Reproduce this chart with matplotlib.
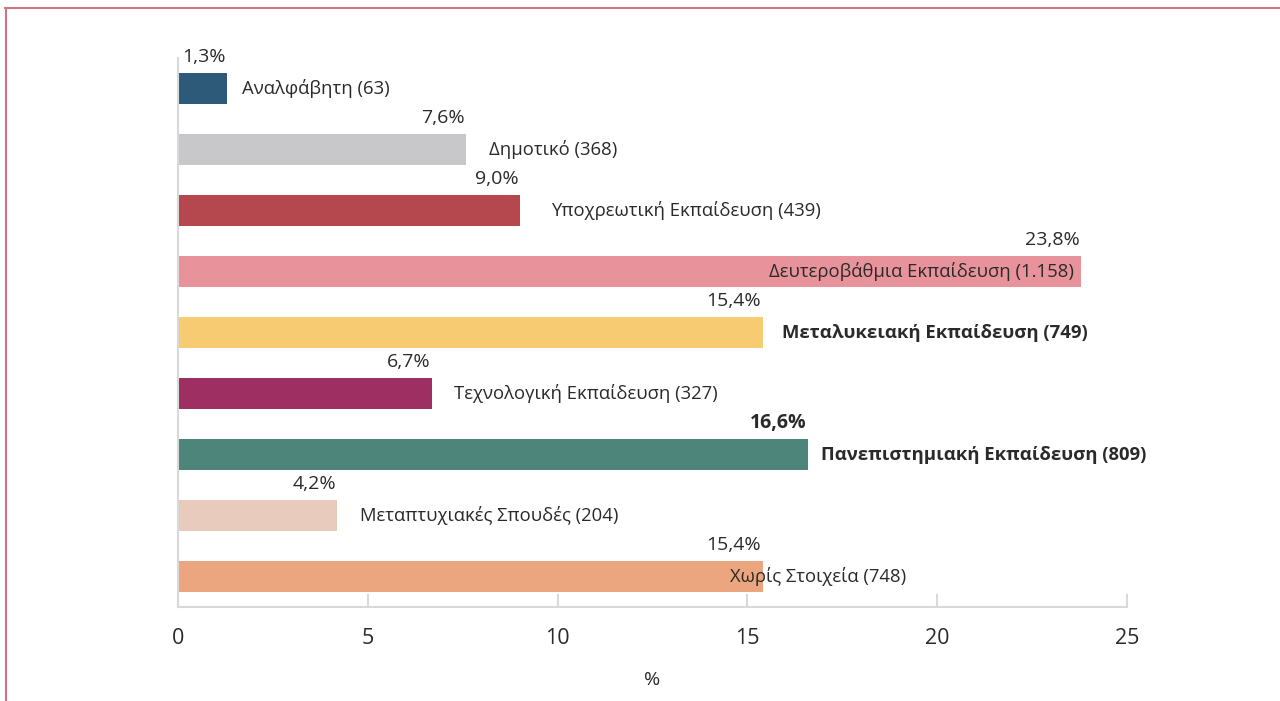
import matplotlib.pyplot as plt
from matplotlib.lines import Line2D

plt.rcParams['font.family'] = ['Open Sans', 'DejaVu Sans']

categories = ['Αναλφάβητη (63)', 'Δημοτικό (368)', 'Υποχρεωτική Εκπαίδευση (439)',
              'Δευτεροβάθμια Εκπαίδευση (1.158)', 'Μεταλυκειακή Εκπαίδευση (749)',
              'Τεχνολογική Εκπαίδευση (327)', 'Πανεπιστημιακή Εκπαίδευση (809)',
              'Μεταπτυχιακές Σπουδές (204)', 'Χωρίς Στοιχεία (748)']
values = [1.3, 7.6, 9.0, 23.8, 15.4, 6.7, 16.6, 4.2, 15.4]
value_labels = ['1,3%', '7,6%', '9,0%', '23,8%', '15,4%', '6,7%', '16,6%', '4,2%', '15,4%']
colors = ['#2E5A7A', '#C8C8CA', '#B5474E', '#E8939B', '#F6CB72',
          '#9D2F62', '#4E857A', '#E9CBBD', '#EBA680']
bold_cat = [False, False, False, False, True, False, True, False, False]
bold_val = [False, False, False, False, False, False, True, False, False]
# horizontal offset (px) of the category label from the bar end
label_dx = [15, 23, 31, -8, 19, 22, 13, 23, -33]
xticks = [0, 5, 10, 15, 20, 25]

fig = plt.figure(figsize=(12.8, 7.01), dpi=100)
ax = fig.add_axes([178 / 1280, 1 - 607 / 701, (1127 - 178) / 1280, 549 / 701])

ypos = list(range(len(values)))
ax.barh(ypos, values, height=0.5, color=colors, zorder=2)

txt = '#2A2A2A'
for y, v, c, vl, bc, bv, dx in zip(ypos, values, categories, value_labels,
                                     bold_cat, bold_val, label_dx):
    ax.annotate(vl, (v, y), xytext=(-1, 23), textcoords='offset points',
                ha='right', va='center', fontsize=14, color=txt,
                fontweight='bold' if bv else 'normal')
    ax.annotate(c, (v, y), xytext=(dx * 0.72, 0), textcoords='offset points',
                ha='right' if dx < 0 and dx > -20 else 'left', va='center',
                fontsize=13.3, color=txt, fontweight='bold' if bc else 'normal')

ax.set_xlim(0, 25)
ax.set_ylim(8.5, -0.5)
ax.set_xticks(xticks)
ax.set_yticks([])
for s in ['top', 'right']:
    ax.spines[s].set_visible(False)
for s in ['left', 'bottom']:
    ax.spines[s].set_color('#D9D9D9')
    ax.spines[s].set_linewidth(1.5)
ax.tick_params(axis='x', direction='in', length=9.5, width=1.5, color='#D9D9D9',
               pad=15, labelsize=15.5, labelcolor=txt)
ax.set_xlabel('%', fontsize=14, color=txt, labelpad=16)

# outer frame
fig.add_artist(Line2D([5 / 1280, 1], [1 - 8 / 701, 1 - 8 / 701], color='#D0757F', lw=1.5))
fig.add_artist(Line2D([6 / 1280, 6 / 1280], [0, 1 - 8 / 701], color='#D0757F', lw=1.5))

fig.savefig('out.png', dpi=100)
